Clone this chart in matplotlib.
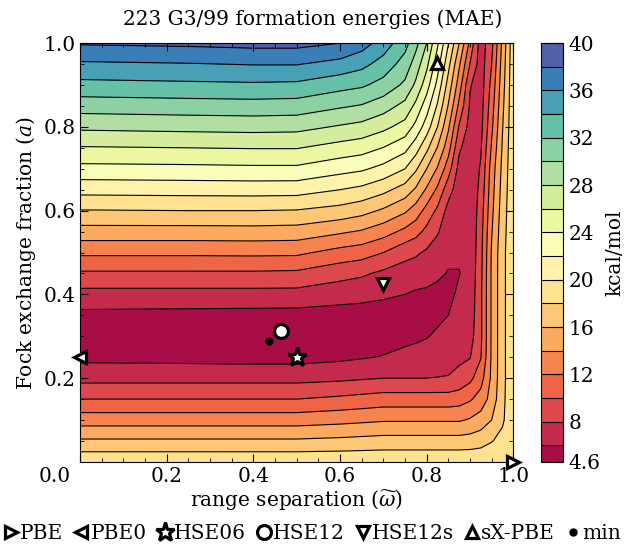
import numpy as np
import matplotlib
matplotlib.use('Agg')
import matplotlib.pyplot as plt
from matplotlib.transforms import ScaledTranslation

plt.rcParams['font.family'] = 'DejaVu Serif'
plt.rcParams['mathtext.fontset'] = 'dejavuserif'
plt.rcParams['font.size'] = 14.5

# grid of the MAE map (kcal/mol), one list per omega column, values bottom->top in a
omega = [0.0, 0.25, 0.4, 0.5, 0.6, 0.65, 0.7, 0.75, 0.775, 0.8, 0.825, 0.85, 0.875,
         0.9, 0.925, 0.95, 0.975, 1.0]
frac = [0.0, 0.05, 0.1, 0.15, 0.2, 0.25, 0.3, 0.35, 0.4, 0.45, 0.5,
        0.55, 0.6, 0.65, 0.7, 0.75, 0.8, 0.85, 0.9, 0.95, 1.0]

col_000 = [19.6, 16.3, 13.1, 10.0, 7.4, 5.5, 5.0, 5.5, 7.3, 9.7, 12.4,
           15.2, 17.9, 20.7, 23.4, 25.85, 28.4, 30.9, 33.4, 35.7, 38.2]
col_025 = [19.6, 16.3, 13.1, 10.0, 7.4, 5.4, 4.8, 5.4, 7.3, 9.7, 12.4,
           15.2, 18.0, 20.8, 23.5, 26.0, 28.6, 31.1, 33.6, 35.9, 38.4]
col_040 = [19.6, 16.3, 13.1, 10.0, 7.4, 5.3, 4.65, 5.35, 7.3, 9.7, 12.45,
           15.25, 18.0, 20.85, 23.6, 26.1, 28.7, 31.2, 33.7, 36.1, 38.6]
col_050 = [19.6, 16.3, 13.1, 10.0, 7.4, 5.3, 4.65, 5.3, 7.3, 9.6, 12.4,
           15.15, 17.9, 20.8, 23.6, 26.1, 28.6, 31.1, 33.6, 36.1, 38.6]
col_060 = [19.6, 16.5, 13.4, 10.4, 7.6, 5.6, 4.75, 5.2, 6.8, 8.7, 11.3,
           14.3, 17.3, 20.0, 22.7, 25.25, 27.8, 30.25, 32.7, 35.35, 38.0]
col_065 = [19.6, 16.65, 13.6, 10.65, 7.8, 5.85, 4.9, 5.15, 6.6, 8.3, 10.9,
           13.8, 16.7, 19.5, 22.3, 24.85, 27.4, 29.85, 32.3, 34.6, 36.9]
col_070 = [19.6, 16.8, 13.8, 10.9, 8.0, 6.1, 5.1, 5.1, 6.3, 7.6, 10.0,
           12.85, 15.7, 18.55, 21.4, 23.95, 26.5, 28.9, 31.3, 33.2, 35.1]
col_075 = [19.6, 16.8, 13.8, 10.9, 8.0, 6.6, 5.4, 5.0, 6.0, 7.1, 8.65,
           11.5, 14.3, 17.15, 20.0, 22.6, 25.25, 27.4, 29.6, 31.15, 32.7]
col_0775 = [19.6, 16.8, 13.8, 10.9, 8.0, 6.7, 5.65, 5.05, 5.75, 6.9, 8.3,
            10.7, 13.1, 15.7, 18.3, 20.85, 23.4, 25.5, 27.6, 29.1, 30.6]
col_080 = [19.6, 16.8, 13.8, 10.9, 8.0, 6.8, 5.9, 5.2, 5.6, 6.8, 7.7,
           9.45, 11.3, 13.7, 16.0, 18.5, 21.0, 22.9, 24.9, 26.5, 28.0]
col_0825 = [19.6, 16.8, 13.8, 10.9, 8.05, 7.1, 6.3, 5.6, 5.5, 6.3, 7.0,
            8.2, 9.6, 11.6, 13.8, 15.9, 18.0, 19.75, 21.4, 22.85, 24.3]
col_085 = [19.6, 16.8, 13.8, 10.9, 8.1, 7.35, 6.7, 6.0, 5.6, 5.9, 6.4,
           6.8, 7.3, 8.8, 10.9, 12.8, 14.3, 15.85, 17.2, 18.6, 20.1]
col_0875 = [19.6, 16.8, 13.8, 11.1, 8.6, 7.6, 7.1, 6.7, 6.3, 5.95, 6.2,
            6.4, 6.6, 6.9, 7.3, 8.3, 9.8, 11.5, 13.0, 14.3, 16.0]
col_090 = [19.6, 16.9, 14.2, 11.75, 9.5, 7.9, 7.2, 6.9, 6.7, 6.5, 6.35,
           6.3, 6.3, 6.4, 6.6, 6.95, 7.3, 7.75, 8.15, 9.95, 11.5]
col_0925 = [19.6, 17.2, 14.9, 12.8, 11.2, 9.9, 9.6, 9.6, 9.6, 9.5, 9.4,
            9.25, 9.0, 8.6, 8.2, 7.8, 7.4, 7.2, 7.0, 6.95, 6.9]
col_095 = [19.6, 17.9, 16.0, 14.8, 14.4, 14.3, 14.3, 14.3, 14.3, 14.3, 14.2,
           13.85, 13.5, 13.2, 12.9, 12.25, 11.6, 11.1, 10.6, 10.0, 9.4]
col_0975 = [19.6, 18.6, 17.7, 17.5, 17.4, 17.4, 17.4, 17.4, 17.4, 17.4, 17.4,
            17.2, 17.0, 16.75, 16.5, 16.2, 15.9, 15.55, 15.2, 14.85, 14.5]
col_100 = [19.6, 19.6, 19.6, 19.6, 19.6, 19.6, 19.6, 19.6, 19.6, 19.6, 19.6,
           19.6, 19.6, 19.6, 19.6, 19.55, 19.5, 19.5, 19.5, 19.45, 19.4]

mae = np.array([col_000, col_025, col_040, col_050, col_060, col_065, col_070, col_075,
                col_0775, col_080, col_0825, col_085, col_0875, col_090, col_0925,
                col_095, col_0975, col_100]).T

levels = [4.6, 6, 8, 10, 12, 14, 16, 18, 20, 22, 24, 26, 28, 30, 32, 34, 36, 38, 40]
cb_ticks = [4.6, 8, 12, 16, 20, 24, 28, 32, 36, 40]

# functionals
names = ['PBE', 'PBE0', 'HSE06', 'HSE12', 'HSE12s', 'sX-PBE', 'min']
func_omega = [1.0, 0.0, 0.5, 0.464, 0.70, 0.824, 0.437]
func_a = [0.0, 0.25, 0.25, 0.313, 0.425, 0.953, 0.289]
symbols = ['>', '<', '*', 'o', 'v', '^', 'o']

fig = plt.figure(figsize=(6.26, 5.46), dpi=100)
ax = fig.add_axes([0.128, 0.154, 0.692, 0.767])
cax = fig.add_axes([0.864, 0.154, 0.036, 0.767])

cf = ax.contourf(omega, frac, mae, levels=levels, cmap='Spectral')
cs = ax.contour(omega, frac, mae, levels=levels, colors='k', linewidths=0.8)

for n, x, y, m in zip(names, func_omega, func_a, symbols):
    if n == 'min':
        ax.plot(x, y, 'o', color='k', ms=5, label=n, clip_on=False, zorder=5)
    elif m == '*':
        ax.plot(x, y, m, mfc='w', mec='k', mew=2.3, ms=14, label=n, clip_on=False, zorder=5)
    elif m == 'o':
        ax.plot(x, y, m, mfc='w', mec='k', mew=2.3, ms=10, label=n, clip_on=False, zorder=5)
    else:
        ax.plot(x, y, m, mfc='w', mec='k', mew=2.3, ms=9, label=n, clip_on=False, zorder=5)

ax.set_xlim(0, 1)
ax.set_ylim(0, 1)
ax.set_xticks([0, 0.2, 0.4, 0.6, 0.8, 1.0])
ax.set_xticklabels(['0.0', '0.2', '0.4', '0.6', '0.8', '1.0'])
ax.set_yticks([0.2, 0.4, 0.6, 0.8, 1.0])
ax.set_yticklabels(['0.2', '0.4', '0.6', '0.8', '1.0'])
ax.set_xticks(np.arange(0, 1.001, 0.05), minor=True)
ax.set_yticks(np.arange(0, 1.001, 0.05), minor=True)
ax.tick_params(which='both', direction='in', top=True, right=True)
ax.tick_params(which='major', length=6)
ax.tick_params(which='minor', length=3)
lab0 = ax.get_xticklabels()[0]
lab0.set_transform(lab0.get_transform() + ScaledTranslation(-0.25, 0, fig.dpi_scale_trans))

ax.set_xlabel(r'range separation ($\widetilde{\omega}$)', labelpad=2)
ax.set_ylabel(r'Fock exchange fraction ($a$)', labelpad=4)
fig.suptitle('223 G3/99 formation energies (MAE)', x=0.5, y=0.965, va='center', fontsize=14.5)

cb = fig.colorbar(cf, cax=cax, ticks=cb_ticks, spacing='proportional')
cb.add_lines(cs)
cb.ax.set_yticklabels(['4.6', '8', '12', '16', '20', '24', '28', '32', '36', '40'])
cb.ax.tick_params(direction='in', length=4)
cb.set_label('kcal/mol')

fig.legend(loc='center', bbox_to_anchor=(0.5, 0.022), ncol=7, frameon=False,
           handlelength=0.6, handletextpad=0.15, columnspacing=0.6, borderpad=0,
           borderaxespad=0)

fig.savefig('out.png', dpi=100)
